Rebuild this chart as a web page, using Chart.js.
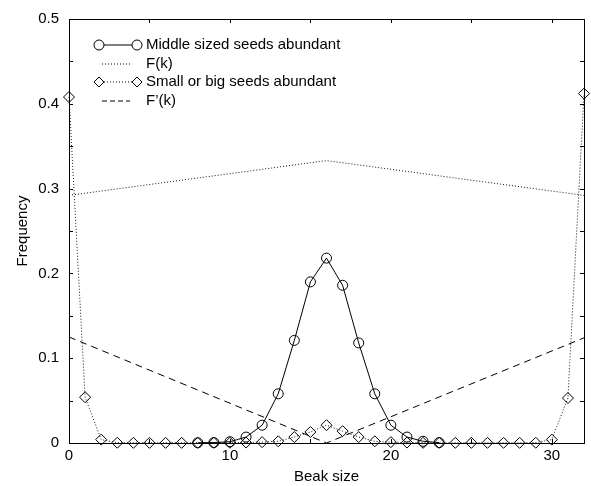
<!DOCTYPE html>
<html>
<head>
<meta charset="utf-8">
<script src="https://cdn.jsdelivr.net/npm/chart.js@4"></script>
<style>
  html, body { margin: 0; padding: 0; background: #fff; }
  #wrap { width: 591px; height: 486px; }
</style>
</head>
<body>
<div id="wrap"><canvas id="grafico" width="591" height="486"></canvas></div>
<script>
// beak sizes and frequencies
const kMiddle = [8, 9, 10, 11, 12, 13, 14, 15, 16, 17, 18, 19, 20, 21, 22, 23];
const middle  = [0.0003, 0.0005, 0.0015, 0.007, 0.021, 0.058, 0.121, 0.19, 0.218, 0.186, 0.118, 0.058, 0.021, 0.007, 0.002, 0.0005];

const kSmallBig = [0,1,2,3,4,5,6,7,8,9,10,11,12,13,14,15,16,17,18,19,20,21,22,23,24,25,26,27,28,29,30,31,32];
const smallBig  = [0.408, 0.054, 0.004, 0.0003, 0.0002, 0.0002, 0.0002, 0.0002, 0.0002, 0.0002, 0.0003, 0.0005,
                   0.001, 0.002, 0.007, 0.013, 0.021, 0.014, 0.007, 0.002, 0.001, 0.0005,
                   0.0002, 0.0002, 0.0002, 0.0002, 0.0002, 0.0002, 0.0002, 0.0003, 0.004, 0.053, 0.412];

const kF  = [0, 16, 32];
const fK  = [0.292, 0.333, 0.292];
const fdK = [0.125, 0, 0.124];

const xTicks = [0, 10, 20, 30];
const xMinor = [5, 15, 25];
const yTicks = [0, 0.1, 0.2, 0.3, 0.4, 0.5];
const yMinor = [0.05, 0.15, 0.25, 0.35, 0.45];

const legendLabels = ["Middle sized seeds abundant", "F(k)", "Small or big seeds abundant", "F\u2019(k)"];

const FONT = "'Liberation Sans', Arial, Helvetica, sans-serif";
const FS = 15;

function pts(xs, ys){ return xs.map((x, i) => ({ x: x, y: ys[i] })); }

function circle(c, x, y, r){
  c.beginPath(); c.arc(x, y, r, 0, Math.PI * 2); c.stroke();
}
function diamond(c, x, y, r){
  c.beginPath();
  c.moveTo(x, y - r); c.lineTo(x + r, y); c.lineTo(x, y + r); c.lineTo(x - r, y);
  c.closePath(); c.stroke();
}

// box round the plot with inward ticks on all four sides, plus the key
const frame = {
  id: 'frame',
  afterDraw(chart){
    const c = chart.ctx, a = chart.chartArea;
    const xs = chart.scales.x, ys = chart.scales.y;
    c.save();
    c.strokeStyle = '#000';
    c.lineWidth = 1;
    c.strokeRect(a.left + 0.5, a.top + 0.5, a.right - a.left, a.bottom - a.top);
    c.beginPath();
    xTicks.concat(xMinor).forEach(v => {
      const px = Math.round(xs.getPixelForValue(v)) + 0.5;
      c.moveTo(px, a.bottom); c.lineTo(px, a.bottom - 4);
      c.moveTo(px, a.top); c.lineTo(px, a.top + 4);
    });
    yTicks.concat(yMinor).forEach(v => {
      const py = Math.round(ys.getPixelForValue(v)) + 0.5;
      c.moveTo(a.left, py); c.lineTo(a.left + 4, py);
      c.moveTo(a.right, py); c.lineTo(a.right - 4, py);
    });
    c.stroke();

    c.font = FS + 'px ' + FONT;
    c.fillStyle = '#000';
    c.textBaseline = 'middle';
    const rows = [45, 64, 82, 101];
    const x0 = 99, x1 = 137, tx = 146;
    c.setLineDash([]);
    c.beginPath(); c.moveTo(x0 + 5, rows[0]); c.lineTo(x1 - 5, rows[0]); c.stroke();
    circle(c, x0, rows[0], 5); circle(c, x1, rows[0], 5);
    c.setLineDash([1, 2]);
    c.beginPath(); c.moveTo(102, rows[1]); c.lineTo(130, rows[1]); c.stroke();
    c.beginPath(); c.moveTo(x0 + 5, rows[2]); c.lineTo(x1 - 5, rows[2]); c.stroke();
    c.setLineDash([]);
    diamond(c, x0, rows[2], 5); diamond(c, x1, rows[2], 5);
    c.setLineDash([5, 3]);
    c.beginPath(); c.moveTo(102, rows[3]); c.lineTo(130, rows[3]); c.stroke();
    c.setLineDash([]);
    legendLabels.forEach((t, i) => c.fillText(t, tx, rows[i]));
    c.restore();
  }
};

let ctx = document.getElementById('grafico');
let chart = new Chart(ctx, {
  type: 'scatter',
  data: {
    datasets: [
      { data: pts(kF, fK), showLine: true, borderColor: '#111', borderWidth: 1,
        borderDash: [1, 2], pointRadius: 0, clip: false },
      { data: pts(kF, fdK), showLine: true, borderColor: '#000', borderWidth: 1,
        borderDash: [7, 5], pointRadius: 0, clip: false },
      { data: pts(kSmallBig, smallBig), showLine: true, borderColor: '#111', borderWidth: 1,
        borderDash: [1, 2], pointStyle: 'rectRot', pointRadius: 5.5,
        pointBorderColor: '#000', pointBackgroundColor: 'rgba(0,0,0,0)', pointBorderWidth: 1, clip: false },
      { data: pts(kMiddle, middle), showLine: true, borderColor: '#000', borderWidth: 1,
        pointStyle: 'circle', pointRadius: 5,
        pointBorderColor: '#000', pointBackgroundColor: 'rgba(0,0,0,0)', pointBorderWidth: 1, clip: false }
    ]
  },
  options: {
    responsive: false,
    animation: false,
    layout: { padding: { left: 0, right: 7, top: 13, bottom: 0 } },
    plugins: { legend: { display: false }, tooltip: { enabled: false } },
    elements: { line: { tension: 0 } },
    scales: {
      x: {
        type: 'linear', min: 0, max: 32,
        grid: { display: false, drawTicks: false },
        border: { display: false },
        afterBuildTicks: s => { s.ticks = xTicks.map(v => ({ value: v })); },
        afterFit: s => { s.height = 43; },
        ticks: { color: '#000', padding: 4, maxRotation: 0, font: { family: FONT, size: FS } },
        title: { display: true, text: 'Beak size', color: '#000',
                 padding: { top: 0, bottom: 0 }, font: { family: FONT, size: FS } }
      },
      y: {
        type: 'linear', min: 0, max: 0.5,
        grid: { display: false, drawTicks: false },
        border: { display: false },
        afterBuildTicks: s => { s.ticks = yTicks.map(v => ({ value: v })); },
        afterFit: s => { s.width = 69; },
        ticks: { color: '#000', padding: 10, font: { family: FONT, size: FS } },
        title: { display: true, text: 'Frequency', color: '#000',
                 padding: { top: 14, bottom: 14 }, font: { family: FONT, size: FS } }
      }
    }
  },
  plugins: [frame]
});
</script>
</body>
</html>
